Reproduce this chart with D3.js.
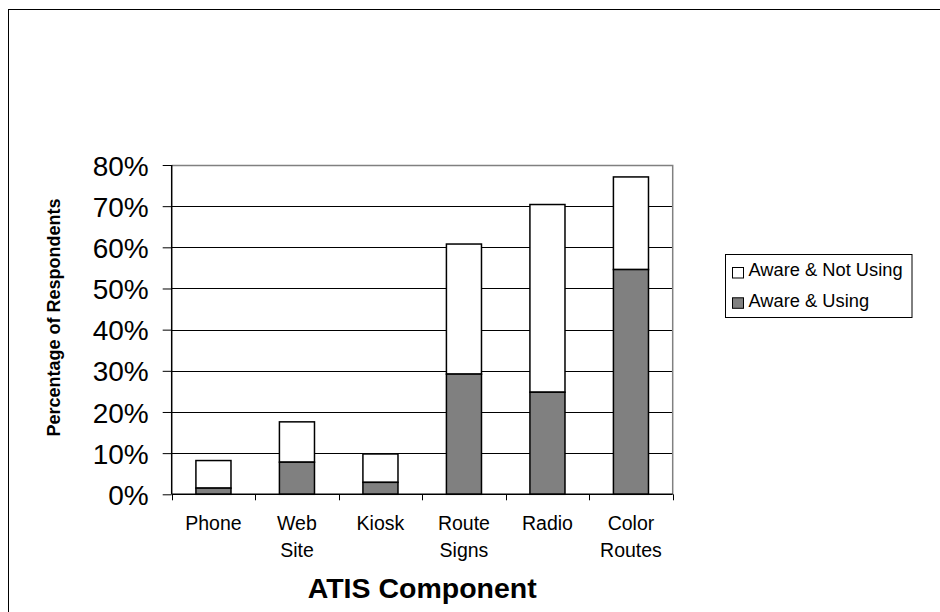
<!DOCTYPE html>
<html><head><meta charset="utf-8">
<script src="https://cdn.jsdelivr.net/npm/d3@7"></script>
<style>html,body{margin:0;padding:0;background:#fff;}svg{display:block;font-family:Arial,"Liberation Sans",sans-serif;}</style>
</head><body>
<script>
const categories = [["Phone"], ["Web", "Site"], ["Kiosk"], ["Route", "Signs"], ["Radio"], ["Color", "Routes"]];
const awareUsing = [1.5, 7.8, 2.9, 29.2, 24.8, 54.6];
const awareNotUsing = [6.7, 9.8, 6.9, 31.6, 45.6, 22.5];
const yTicks = [0, 10, 20, 30, 40, 50, 60, 70, 80];
const seriesNames = ["Aware & Not Using", "Aware & Using"];

const W = 940, H = 612;
const svg = d3.select("body").append("svg").attr("width", W).attr("height", H);

// outer frame
svg.append("rect").attr("x", 8.5).attr("y", 9.5).attr("width", 960).attr("height", 640)
  .attr("fill", "none").attr("stroke", "#000").attr("stroke-width", 1);

const L = 171.7, R = 672.7, T = 165, B = 494.3;
const x = d3.scaleBand().domain(categories.map((d, i) => i)).range([L, R]).padding(0);
const y = d3.scaleLinear().domain([0, 80]).range([B, T]);
const bw = x.bandwidth() * 0.42;

// gridlines
svg.append("g").selectAll("line").data(yTicks.filter(t => t > 0 && t < 80)).join("line")
  .attr("x1", L).attr("x2", R).attr("y1", d => Math.round(y(d)) + 0.5).attr("y2", d => Math.round(y(d)) + 0.5)
  .attr("stroke", "#000").attr("stroke-width", 1);

// plot area border (top/right gray)
svg.append("path").attr("d", `M${L},${Math.round(T)+0.5}H${R}V${B}`).attr("fill", "none")
  .attr("stroke", "#808080").attr("stroke-width", 1.5);

// stacked bars
const g = svg.append("g");
categories.forEach((c, i) => {
  const cx = x(i) + x.bandwidth() / 2;
  const u = awareUsing[i], n = awareNotUsing[i];
  g.append("rect").attr("x", cx - bw / 2).attr("width", bw)
    .attr("y", y(u + n)).attr("height", y(u) - y(u + n))
    .attr("fill", "#fff").attr("stroke", "#000").attr("stroke-width", 1.5);
  g.append("rect").attr("x", cx - bw / 2).attr("width", bw)
    .attr("y", y(u)).attr("height", y(0) - y(u))
    .attr("fill", "#808080").attr("stroke", "#000").attr("stroke-width", 1.5);
});

// y axis
const yAxis = d3.axisLeft(y).tickValues(yTicks).tickFormat(d => d + "%").tickSize(9).tickPadding(14);
const ya = svg.append("g").attr("transform", `translate(${L},0)`).call(yAxis);
ya.select(".domain").attr("stroke", "#000").attr("stroke-width", 1.5).attr("d", `M0,${T}V${B}`);
ya.selectAll(".tick line").attr("stroke", "#000");
ya.selectAll(".tick text").attr("font-size", 28).attr("fill", "#000").attr("font-family", "Arial, 'Liberation Sans', sans-serif").attr("dy", "0.36em");

// x axis baseline and ticks
const xTickPos = d3.range(categories.length + 1).map(i => L + i * x.bandwidth());
svg.append("line").attr("x1", L).attr("x2", R).attr("y1", B).attr("y2", B).attr("stroke", "#000").attr("stroke-width", 1.5);
svg.append("g").selectAll("line").data(xTickPos).join("line")
  .attr("x1", d => Math.round(d) + 0.5).attr("x2", d => Math.round(d) + 0.5).attr("y1", B).attr("y2", B + 6)
  .attr("stroke", "#000").attr("stroke-width", 1);

// x labels
const xl = svg.append("g").attr("font-size", 19.5).attr("fill", "#000").attr("text-anchor", "middle");
categories.forEach((c, i) => {
  const t = xl.append("text").attr("x", x(i) + x.bandwidth() / 2).attr("y", 530);
  c.forEach((line, j) => t.append("tspan").attr("x", x(i) + x.bandwidth() / 2).attr("y", 530 + j * 27.3).text(line));
});

// axis titles
svg.append("text").attr("x", (L + R) / 2).attr("y", 598).attr("text-anchor", "middle")
  .attr("font-size", 28.5).attr("font-weight", "bold").text("ATIS Component");
svg.append("text").attr("transform", `translate(60,317.5) rotate(-90)`).attr("text-anchor", "middle")
  .attr("font-size", 18).attr("font-weight", "bold").text("Percentage of Respondents");

// legend
const lg = svg.append("g");
lg.append("rect").attr("x", 725.5).attr("y", 254.5).attr("width", 186.5).attr("height", 63)
  .attr("fill", "#fff").attr("stroke", "#000").attr("stroke-width", 1);
const fills = ["#fff", "#808080"];
seriesNames.forEach((s, i) => {
  const yy = 267.5 + i * 30.3;
  lg.append("rect").attr("x", 732.5).attr("y", yy).attr("width", 11).attr("height", 10.5)
    .attr("fill", fills[i]).attr("stroke", "#000").attr("stroke-width", 1);
  lg.append("text").attr("x", 748.5).attr("y", 276 + i * 30.5).attr("font-size", 18.3).text(s);
});
</script>
</body></html>
